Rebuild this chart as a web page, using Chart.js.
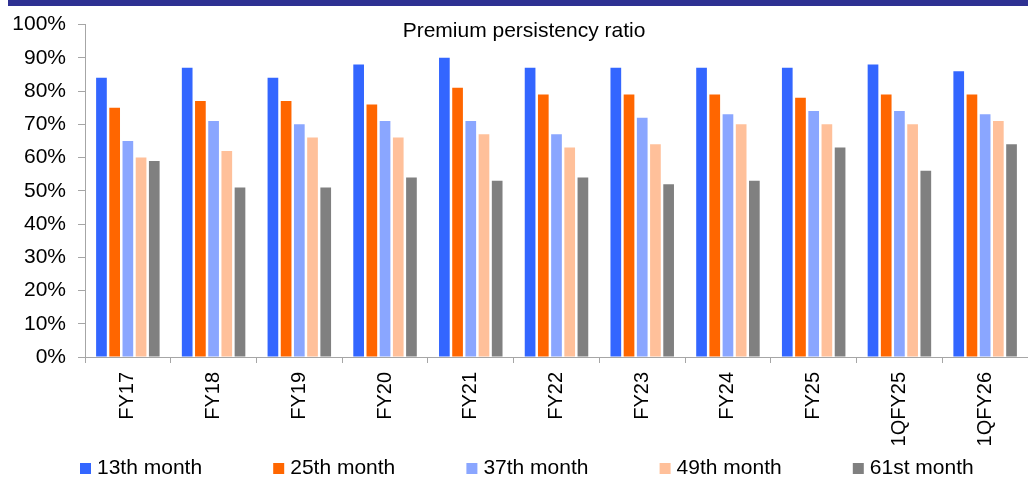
<!DOCTYPE html>
<html>
<head>
<meta charset="utf-8">
<title>Premium persistency ratio</title>
<script src="https://cdn.jsdelivr.net/npm/chart.js@4.4.1/dist/chart.umd.min.js"></script>
<style>
  html, body { margin: 0; padding: 0; background: #fff; overflow: hidden; }
  #wrap { position: relative; width: 1028px; height: 478px; }
  #band { position: absolute; left: 8px; top: 0; width: 1020px; height: 6px; background: #2E3192; }
  canvas { display: block; }
</style>
</head>
<body>
<div id="wrap">
  <canvas id="chart" width="1028" height="478"></canvas>
  <div id="band"></div>
</div>
<script>
// Persistency ratios (%) by period
const categories = ['FY17', 'FY18', 'FY19', 'FY20', 'FY21', 'FY22', 'FY23', 'FY24', 'FY25', '1QFY25', '1QFY26'];
const month13 = [84, 87, 84, 88, 90, 87, 87, 87, 87, 88, 86];
const month25 = [75, 77, 77, 76, 81, 79, 79, 79, 78, 79, 79];
const month37 = [65, 71, 70, 71, 71, 67, 72, 73, 74, 74, 73];
const month49 = [60, 62, 66, 66, 67, 63, 64, 70, 70, 70, 71];
const month61 = [59, 51, 51, 54, 53, 54, 52, 53, 63, 56, 64];
const seriesNames = ['13th month', '25th month', '37th month', '49th month', '61st month'];
const yTickMin = 0;
const yTickMax = 100;
const yTickStep = 10;
const titleText = 'Premium persistency ratio';

const fontFamily = "'Liberation Sans', Arial, Helvetica, sans-serif";
const axisGray = '#a6a6a6';
const seriesColors = ['#3366FF', '#FF6600', '#8AA6FF', '#FFC09A', '#808080'];

Chart.defaults.font.family = fontFamily;
Chart.defaults.color = '#000';

// Title sits inside the plot, near the 100% line
const titlePlugin = {
  id: 'insideTitle',
  afterDraw(chart) {
    const ctx = chart.ctx;
    ctx.save();
    ctx.font = '21px ' + fontFamily;
    ctx.fillStyle = '#000';
    ctx.textAlign = 'center';
    ctx.textBaseline = 'alphabetic';
    ctx.fillText(titleText, 524, 37);
    ctx.restore();
  }
};

// Legend row along the bottom edge
const legendPlugin = {
  id: 'bottomLegend',
  afterDraw(chart) {
    const ctx = chart.ctx;
    ctx.save();
    ctx.font = '21px ' + fontFamily;
    ctx.textAlign = 'left';
    ctx.textBaseline = 'alphabetic';
    chart.data.datasets.forEach((ds, i) => {
      const x = 80 + i * 193.2;
      ctx.fillStyle = ds.backgroundColor;
      ctx.fillRect(x, 463, 11, 11);
      ctx.fillStyle = '#000';
      ctx.fillText(ds.label, x + 17, 473.5);
    });
    ctx.restore();
  }
};

const seriesData = [month13, month25, month37, month49, month61];

new Chart(document.getElementById('chart'), {
  type: 'bar',
  data: {
    labels: categories,
    datasets: seriesNames.map((name, i) => ({
      label: name,
      data: seriesData[i],
      backgroundColor: seriesColors[i],
      borderWidth: 0,
      categoryPercentage: 0.77,
      barPercentage: 0.81
    }))
  },
  options: {
    responsive: false,
    animation: false,
    layout: { padding: { top: 22, right: 0, bottom: 0, left: 0 } },
    plugins: {
      legend: { display: false },
      title: { display: false },
      tooltip: { enabled: false }
    },
    scales: {
      x: {
        grid: { display: true, drawOnChartArea: false, drawTicks: true, tickLength: 6, color: axisGray, offset: true },
        border: { display: true, color: axisGray, width: 1 },
        ticks: { font: { size: 20 }, color: '#000', maxRotation: 90, minRotation: 90, padding: 9, autoSkip: false },
        afterFit(scale) { scale.height = 121; }
      },
      y: {
        min: yTickMin,
        max: yTickMax,
        grid: { display: true, drawOnChartArea: false, drawTicks: true, tickLength: 7, color: axisGray },
        border: { display: true, color: axisGray, width: 1 },
        ticks: { stepSize: yTickStep, font: { size: 21 }, color: '#000', padding: 12, callback: v => v + '%' },
        afterFit(scale) { scale.width = 85; }
      }
    }
  },
  plugins: [titlePlugin, legendPlugin]
});
</script>
</body>
</html>
